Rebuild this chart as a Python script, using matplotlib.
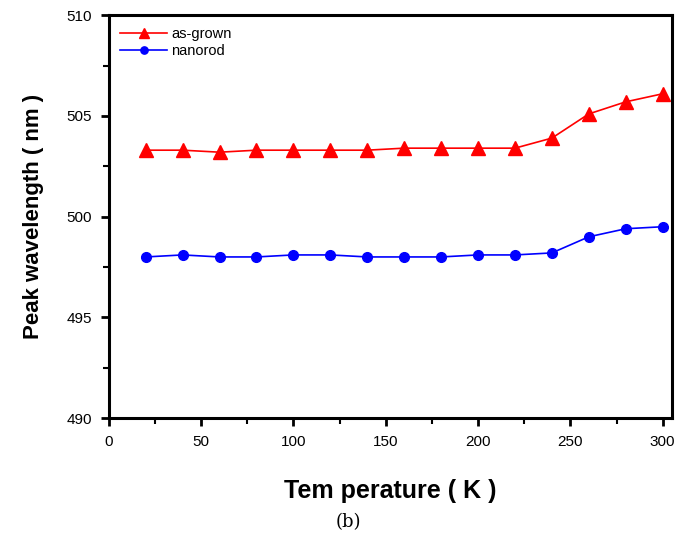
import numpy as np
import matplotlib.pyplot as plt
from matplotlib.ticker import MultipleLocator

plt.rcParams['font.family'] = ['Liberation Sans', 'DejaVu Sans']

temp = [20, 40, 60, 80, 100, 120, 140, 160, 180, 200, 220, 240, 260, 280, 300]
as_grown = [503.3, 503.3, 503.2, 503.3, 503.3, 503.3, 503.3, 503.4, 503.4, 503.4,
            503.4, 503.9, 505.1, 505.7, 506.1]
nanorod = [498.0, 498.1, 498.0, 498.0, 498.1, 498.1, 498.0, 498.0, 498.0, 498.1,
           498.1, 498.2, 499.0, 499.4, 499.5]

fig = plt.figure(figsize=(6.97, 5.43), dpi=100)
ax = fig.add_axes([0.156, 0.230, 0.808, 0.742])

ax.plot(temp, as_grown, color='red', marker='^', markersize=10, lw=1.2, label='as-grown')
ax.plot(temp, nanorod, color='blue', marker='o', markersize=7, lw=1.2, label='nanorod')

ax.set_xlim(0, 305)
ax.set_ylim(490, 510)
ax.xaxis.set_major_locator(MultipleLocator(50))
ax.xaxis.set_minor_locator(MultipleLocator(25))
ax.yaxis.set_major_locator(MultipleLocator(5))
ax.yaxis.set_minor_locator(MultipleLocator(2.5))
ax.tick_params(which='major', direction='out', length=6, width=2, labelsize=11, pad=6)
ax.tick_params(which='minor', direction='out', length=4, width=1.5)
for s in ax.spines.values():
    s.set_linewidth(2.2)

ax.set_xlabel('Tem perature ( K )', fontsize=18, fontweight='bold', labelpad=22)
ax.set_ylabel('Peak wavelength ( nm )', fontsize=16, fontweight='bold', labelpad=16)

ax.legend(loc='upper left', frameon=False, fontsize=10.5, handlelength=3.2,
          handletextpad=0.3, borderaxespad=0.4, labelspacing=0.2, markerscale=0.75)

fig.text(0.5, 0.038, '(b)', ha='center', va='center', fontsize=13, family='DejaVu Serif')

fig.savefig('out.png')
